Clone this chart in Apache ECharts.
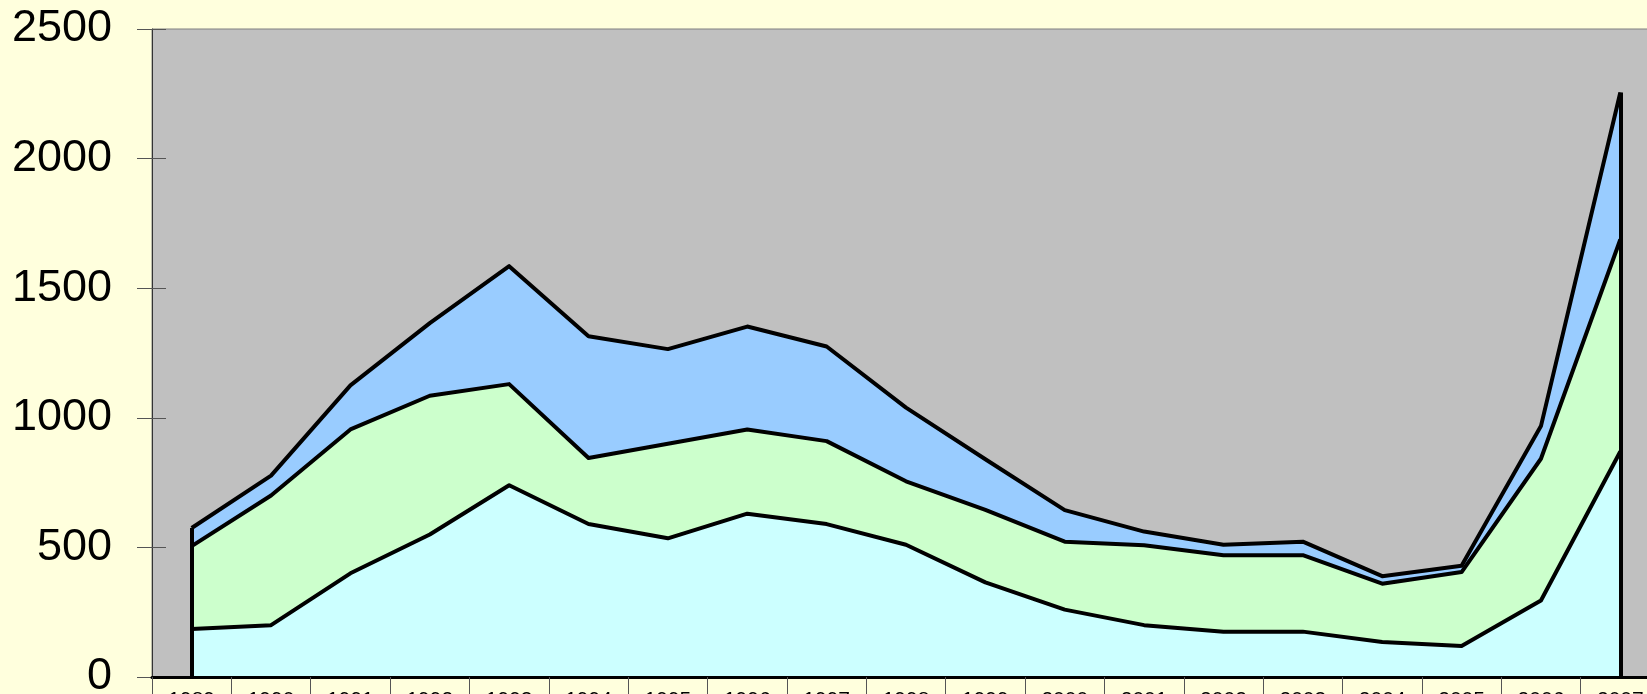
<!DOCTYPE html>
<html>
<head>
<meta charset="utf-8">
<title>area chart</title>
<script src="https://cdn.jsdelivr.net/npm/echarts@6/dist/echarts.min.js"></script>
<style>
    html, body { margin: 0; padding: 0; background: #FFFFDD; overflow: hidden; }
    #main { width: 1647px; height: 694px; }
</style>
</head>
<body>
<div id="main"></div>
<script>
// categories (years)
var years = ['1989', '1990', '1991', '1992', '1993', '1994', '1995', '1996', '1997', '1998',
             '1999', '2000', '2001', '2002', '2003', '2004', '2005', '2006', '2007'];
// stacked series, bottom to top
var serBottom = [185, 200, 400, 550, 740, 590, 535, 630, 590, 510, 365, 260, 200, 175, 175, 135, 120, 295, 870];
var serMiddle = [320, 500, 555, 535, 390, 255, 365, 325, 320, 245, 280, 262, 308, 295, 295, 225, 285, 547, 818];
var serTop    = [70, 77, 170, 280, 455, 470, 365, 397, 365, 284, 195, 122, 53, 40, 52, 29, 24, 126, 567];
var yTicks = [0, 500, 1000, 1500, 2000, 2500];

var fillColors = ['#CCFFFF', '#CCFFCC', '#99CCFF'];

var chart = echarts.init(document.getElementById('main'));

// totals at first/last year for the closing vertical edges
var first = 0, last = years.length - 1;
var totalFirst = serBottom[first] + serMiddle[first] + serTop[first];
var totalLast = serBottom[last] + serMiddle[last] + serTop[last];

function areaSeries(name, data, color, z) {
    return {
        name: name,
        type: 'line',
        stack: 'all',
        data: data,
        symbol: 'none',
        silent: true,
        z: z, // lower bands on top so their outline isn't covered by the band above
        lineStyle: { color: '#000', width: 4, join: 'round' },
        areaStyle: { color: color, opacity: 1 }
    };
}

var series = [
    areaSeries('a', serBottom, fillColors[0], 6),
    areaSeries('b', serMiddle, fillColors[1], 5),
    areaSeries('c', serTop, fillColors[2], 4)
];
// vertical black edges on both ends of the area
series[0].markLine = {
    silent: true,
    z: 10,
    symbol: ['none', 'none'],
    label: { show: false },
    lineStyle: { color: '#000', width: 4, type: 'solid' },
    data: [
        [{ coord: [years[first], 0] }, { coord: [years[first], totalFirst] }],
        [{ coord: [years[last], 0] }, { coord: [years[last], totalLast] }]
    ]
};

chart.setOption({
    backgroundColor: '#FFFFDD',
    animation: false,
    grid: {
        left: 152,
        top: 29,
        width: 1508,
        height: 648,
        outerBoundsMode: 'none',
        containLabel: false,
        show: true,
        backgroundColor: '#C0C0C0',
        borderColor: '#808080',
        borderWidth: 1
    },
    xAxis: {
        type: 'category',
        data: years,
        boundaryGap: true,
        z: 12,
        axisLine: { lineStyle: { color: '#000', width: 3 } },
        axisTick: { show: true, length: 20, lineStyle: { color: '#555', width: 1 } },
        axisLabel: {
            interval: 0,
            margin: 13,
            color: '#000',
            fontFamily: 'Liberation Sans',
            fontSize: 21
        }
    },
    yAxis: [
        {
            type: 'value',
            min: yTicks[0],
            max: yTicks[yTicks.length - 1],
            interval: 500,
            axisLine: { show: true, lineStyle: { color: '#333', width: 1 } },
            axisTick: { show: true, length: 15, lineStyle: { color: '#555' } },
            axisLabel: {
                margin: 40,
                color: '#000',
                fontFamily: 'Liberation Sans',
                fontSize: 45,
                formatter: function (v) { return String(v); }
            },
            splitLine: { show: false }
        },
        {
            // inner half of the crossing ticks
            type: 'value',
            position: 'left',
            min: yTicks[0],
            max: yTicks[yTicks.length - 1],
            interval: 500,
            axisLine: { show: false },
            axisTick: { show: true, inside: true, length: 14, lineStyle: { color: '#555' } },
            axisLabel: { show: false },
            splitLine: { show: false }
        }
    ],
    series: series
});
</script>
</body>
</html>
